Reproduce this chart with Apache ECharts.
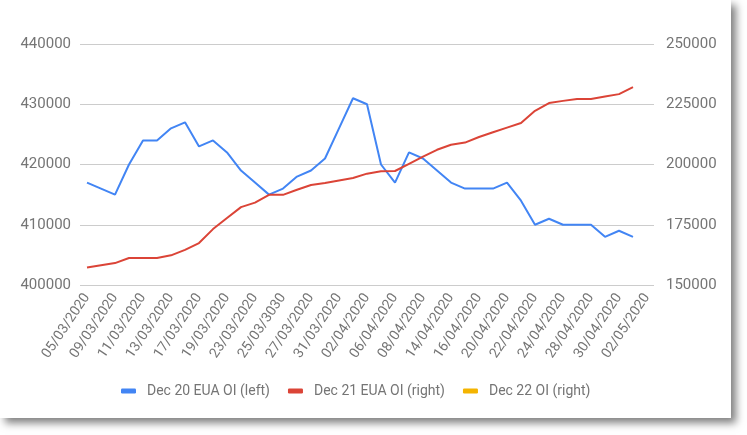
<!DOCTYPE html>
<html>
<head>
<meta charset="utf-8">
<script src="https://cdn.jsdelivr.net/npm/echarts@6/dist/echarts.min.js"></script>
<style>
  html, body { margin: 0; padding: 0; background: #ffffff; }
  #card { position: absolute; left: 0; top: 0; width: 731px; height: 418px; background: #fff;
          box-shadow: 5px 5px 8px rgba(0,0,0,0.5); }
  #chart { width: 731px; height: 418px; }
</style>
</head>
<body>
<div id="card"><div id="chart"></div></div>
<script>
const categories = [
  "05/03/2020","06/03/2020","09/03/2020","10/03/2020","11/03/2020","12/03/2020","13/03/2020",
  "16/03/2020","17/03/2020","18/03/2020","19/03/2020","20/03/2020","23/03/2020","24/03/2020",
  "25/03/3030","26/03/2020","27/03/2020","30/03/2020","31/03/2020","01/04/2020","02/04/2020",
  "03/04/2020","06/04/2020","07/04/2020","08/04/2020","09/04/2020","14/04/2020","15/04/2020",
  "16/04/2020","17/04/2020","20/04/2020","21/04/2020","22/04/2020","23/04/2020","24/04/2020",
  "27/04/2020","28/04/2020","29/04/2020","30/04/2020","01/05/2020","02/05/2020"
];
const dec20 = [417000,416000,415000,420000,424000,424000,426000,427000,423000,424000,
  422000,419000,417000,415000,416000,418000,419000,421000,426000,431000,
  430000,420000,417000,422000,421000,419000,417000,416000,416000,416000,
  417000,414000,410000,411000,410000,410000,410000,408000,409000,408000,null];
const dec21 = [157300,158200,159100,161200,161200,161200,162300,164600,167400,173200,
  177800,182300,184200,187400,187400,189500,191500,192300,193400,194400,
  196200,197200,197300,200300,203300,206100,208200,209100,211400,213400,
  215300,217200,222300,225500,226400,227200,227200,228200,229200,232100,null];
const dec22 = [];
const leftTicks = { min: 400000, max: 440000, interval: 10000 };
const rightTicks = { min: 150000, max: 250000, interval: 25000 };
const seriesNames = ["Dec 20 EUA OI (left)", "Dec 21 EUA OI (right)", "Dec 22 OI (right)"];

const chart = echarts.init(document.getElementById('chart'), null, { renderer: 'canvas' });
const font = 'Roboto';
const txt = '#757575';
const plain = v => String(v);
chart.setOption({
  animation: false,
  color: ['#4285F4', '#DB4437', '#F4B400'],
  grid: { left: 80, right: 77, top: 44, bottom: 133, containLabel: false },
  legend: {
    left: 121, top: 384, padding: 0,
    icon: 'roundRect', itemWidth: 15, itemHeight: 5, itemGap: 18,
    textStyle: { fontFamily: font, fontSize: 14, color: txt, padding: [0, 0, 0, 6] },
    data: seriesNames
  },
  xAxis: {
    type: 'category', data: categories, boundaryGap: true,
    axisLine: { show: false }, axisTick: { show: false },
    axisLabel: { interval: 1, rotate: 56, margin: 10, fontFamily: font, fontSize: 14, color: txt }
  },
  yAxis: [
    { type: 'value', min: leftTicks.min, max: leftTicks.max, interval: leftTicks.interval,
      axisLine: { show: false }, axisTick: { show: false },
      axisLabel: { margin: 9, fontFamily: font, fontSize: 15, color: txt, formatter: plain },
      splitLine: { lineStyle: { color: '#cccccc', width: 1 } } },
    { type: 'value', min: rightTicks.min, max: rightTicks.max, interval: rightTicks.interval,
      axisLine: { show: false }, axisTick: { show: false },
      axisLabel: { margin: 12, fontFamily: font, fontSize: 15, color: txt, formatter: plain },
      splitLine: { show: false } }
  ],
  series: [
    { name: seriesNames[0], type: 'line', yAxisIndex: 0, data: dec20, showSymbol: false, symbol: 'none',
      lineStyle: { width: 2 } },
    { name: seriesNames[1], type: 'line', yAxisIndex: 1, data: dec21, showSymbol: false, symbol: 'none',
      lineStyle: { width: 2 } },
    { name: seriesNames[2], type: 'line', yAxisIndex: 1, data: dec22, showSymbol: false, symbol: 'none',
      lineStyle: { width: 2 } }
  ]
});
</script>
</body>
</html>
